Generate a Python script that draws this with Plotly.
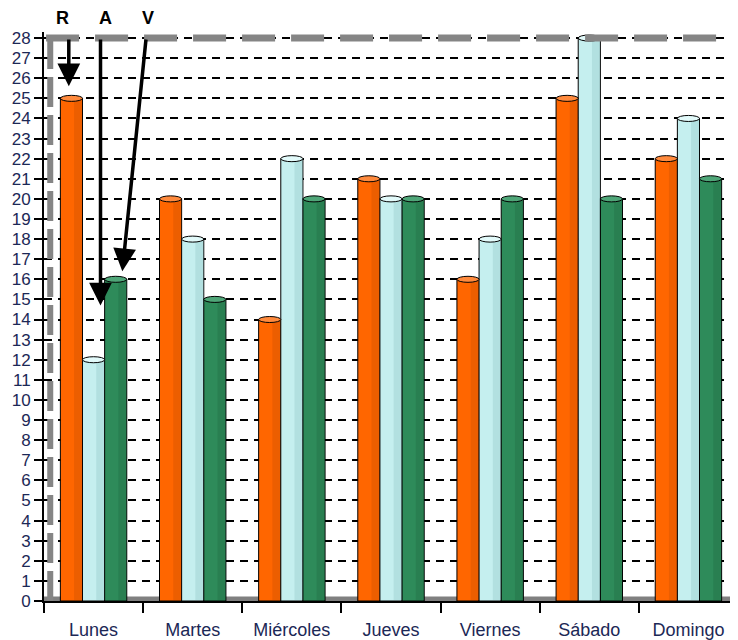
import plotly.graph_objects as go

dias = ["Lunes", "Martes", "Miércoles", "Jueves", "Viernes", "Sábado", "Domingo"]
rojo = [25, 20, 14, 21, 16, 25, 22]
azul = [12, 18, 22, 20, 18, 28, 24]
verde = [16, 15, 20, 20, 20, 20, 21]
y_ticks = list(range(0, 29))

series = [
    ("R", rojo, "#FF6600", "#FF8A3D", "#C94F00"),
    ("A", azul, "#C5EFEF", "#E2FAFA", "#8FC7C7"),
    ("V", verde, "#2E8B5A", "#4FA678", "#1F6B43"),
]

fig = go.Figure()
bargap = 0.33
bw = (1 - bargap) / 3
offsets = [-bw, 0, bw]

for (name, vals, col, top, dark) in series:
    fig.add_trace(go.Bar(
        x=dias, y=vals, name=name,
        marker=dict(color=col, line=dict(color="black", width=1)),
        cliponaxis=False, showlegend=False,
    ))

shapes = []
# floor
shapes.append(dict(type="rect", xref="paper", yref="y", x0=0, x1=1, y0=0, y1=0.22,
                   fillcolor="#808080", line=dict(width=0), layer="below"))
# cylinder shading and caps
for k, (name, vals, col, top, dark) in enumerate(series):
    for i, v in enumerate(vals):
        c = i + offsets[k]
        shapes.append(dict(type="rect", xref="x", yref="y",
                           x0=c + bw * 0.12, x1=c + bw / 2 - 0.004, y0=0.05, y1=v,
                           fillcolor=dark, opacity=0.35, line=dict(width=0)))
        shapes.append(dict(type="circle", xref="x", yref="y",
                           x0=c - bw / 2, x1=c + bw / 2, y0=v - 0.15, y1=v + 0.15,
                           fillcolor=top, line=dict(color="black", width=1)))
# back wall (left) and top edge
shapes.append(dict(type="line", xref="paper", yref="y", x0=0.009, x1=0.009, y0=0, y1=28,
                   line=dict(color="#858585", width=6, dash="30px,8px")))
shapes.append(dict(type="line", xref="paper", yref="y", x0=0.003, x1=1, y0=28, y1=28,
                   line=dict(color="#858585", width=7, dash="33px,16px")))

annotations = []
for lbl, lx in [("R", 0.026), ("A", 0.088), ("V", 0.15)]:
    annotations.append(dict(x=lx, y=28, xref="paper", yref="y", yshift=20,
                            xanchor="center", yanchor="middle",
                            text="<b>" + lbl + "</b>",
                            showarrow=False, font=dict(size=18, color="black",
                                                       family="Liberation Sans, Arial")))
arrows = [(-0.25, 25.6, -0.25, 28), (0.07, 14.7, 0.07, 28), (0.29, 16.4, 0.53, 28)]
for (tx, ty, sx, sy) in arrows:
    annotations.append(dict(x=tx, y=ty, ax=sx, ay=sy, xref="x", yref="y", axref="x", ayref="y",
                            text="", showarrow=True, arrowhead=2, arrowsize=1.3,
                            arrowwidth=3.5, arrowcolor="black"))

fig.update_layout(
    width=730, height=632,
    margin=dict(l=36, r=0, t=24, b=39, autoexpand=False),
    paper_bgcolor="white", plot_bgcolor="white",
    barmode="group", bargap=bargap, bargroupgap=0,
    shapes=shapes, annotations=annotations,
    font=dict(family="Liberation Sans, Arial", color="#1c2856"),
    xaxis=dict(
        type="category", showgrid=False, showline=True, linecolor="black", linewidth=2,
        ticks="outside", tickson="boundaries", ticklen=10, tickwidth=2, tickcolor="black",
        tickfont=dict(size=18, color="#1c2856"), range=[-0.5, 6.5], automargin=False,
        ticklabelstandoff=11,
    ),
    yaxis=dict(
        range=[0, 28.3], tickvals=y_ticks, ticktext=[str(t) for t in y_ticks],
        showgrid=True, gridcolor="black", gridwidth=2, griddash="8px,6px",
        showline=True, linecolor="black", linewidth=2,
        ticks="outside", ticklen=8, tickwidth=2, tickcolor="black",
        tickfont=dict(size=17, color="#1c2856"), zeroline=False, automargin=False,
    ),
)

fig.write_html("out.html")
